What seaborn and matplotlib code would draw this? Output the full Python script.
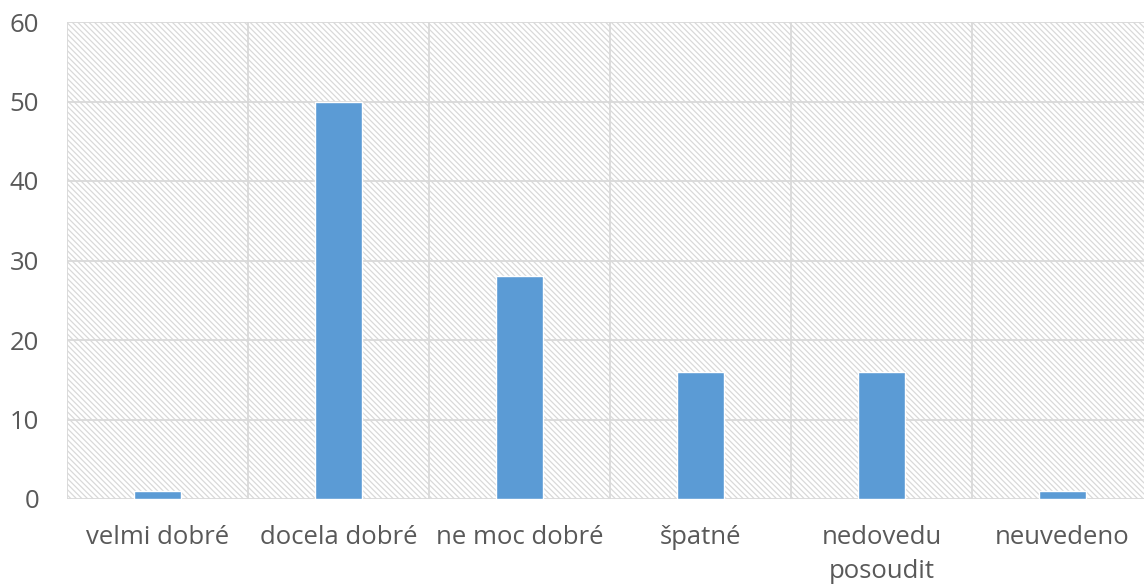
import numpy as np
import pandas as pd
import seaborn as sns
import matplotlib.pyplot as plt
from matplotlib.patches import Rectangle
from matplotlib.ticker import FixedLocator

categories = ['velmi dobré', 'docela dobré', 'ne moc dobré', 'špatné', 'nedovedu\nposoudit', 'neuvedeno']
values = [1, 50, 28, 16, 16, 1]

df = pd.DataFrame({'kategorie': categories, 'pocet': values})

sns.set_theme(style="white")
plt.rcParams['font.family'] = ['Open Sans', 'DejaVu Sans']
plt.rcParams['hatch.color'] = '#d9d9d9'
plt.rcParams['hatch.linewidth'] = 0.9

fig = plt.figure(figsize=(11.44, 5.85), dpi=100)
# plot area runs slightly past the right edge, like the original
ax = fig.add_axes([67 / 1144, 1 - 499 / 585, 1086 / 1144, 477 / 585])

# hatched background of the plot area
bg = Rectangle((0, 0), 1, 1, transform=ax.transAxes, facecolor='white',
               edgecolor='#d9d9d9', hatch='\\' * 6, linewidth=0, zorder=0)
ax.add_patch(bg)

sns.barplot(data=df, x='kategorie', y='pocet', color='#5b9bd5', width=0.265,
            saturation=1, ax=ax, zorder=3)

ax.set_ylim(0, 60)
ax.set_xlim(-0.5, len(categories) - 0.5)
ax.set_yticks(range(0, 61, 10))
ax.xaxis.set_minor_locator(FixedLocator(np.arange(-0.5, len(categories), 1)))

ax.grid(axis='y', which='major', color='#d9d9d9', linewidth=1.3, zorder=1)
ax.grid(axis='x', which='minor', color='#d9d9d9', linewidth=1.3, zorder=1)
ax.grid(axis='x', which='major', visible=False)
ax.set_axisbelow(True)

for s in ax.spines.values():
    s.set_visible(False)

ax.tick_params(axis='both', which='both', length=0, labelsize=18.5, colors='#595959')
ax.tick_params(axis='y', pad=20)
ax.tick_params(axis='x', pad=19)
for lbl in ax.get_xticklabels():
    lbl.set_linespacing(1.45)
ax.set_xlabel('')
ax.set_ylabel('')

plt.savefig('out.png', dpi=100)
